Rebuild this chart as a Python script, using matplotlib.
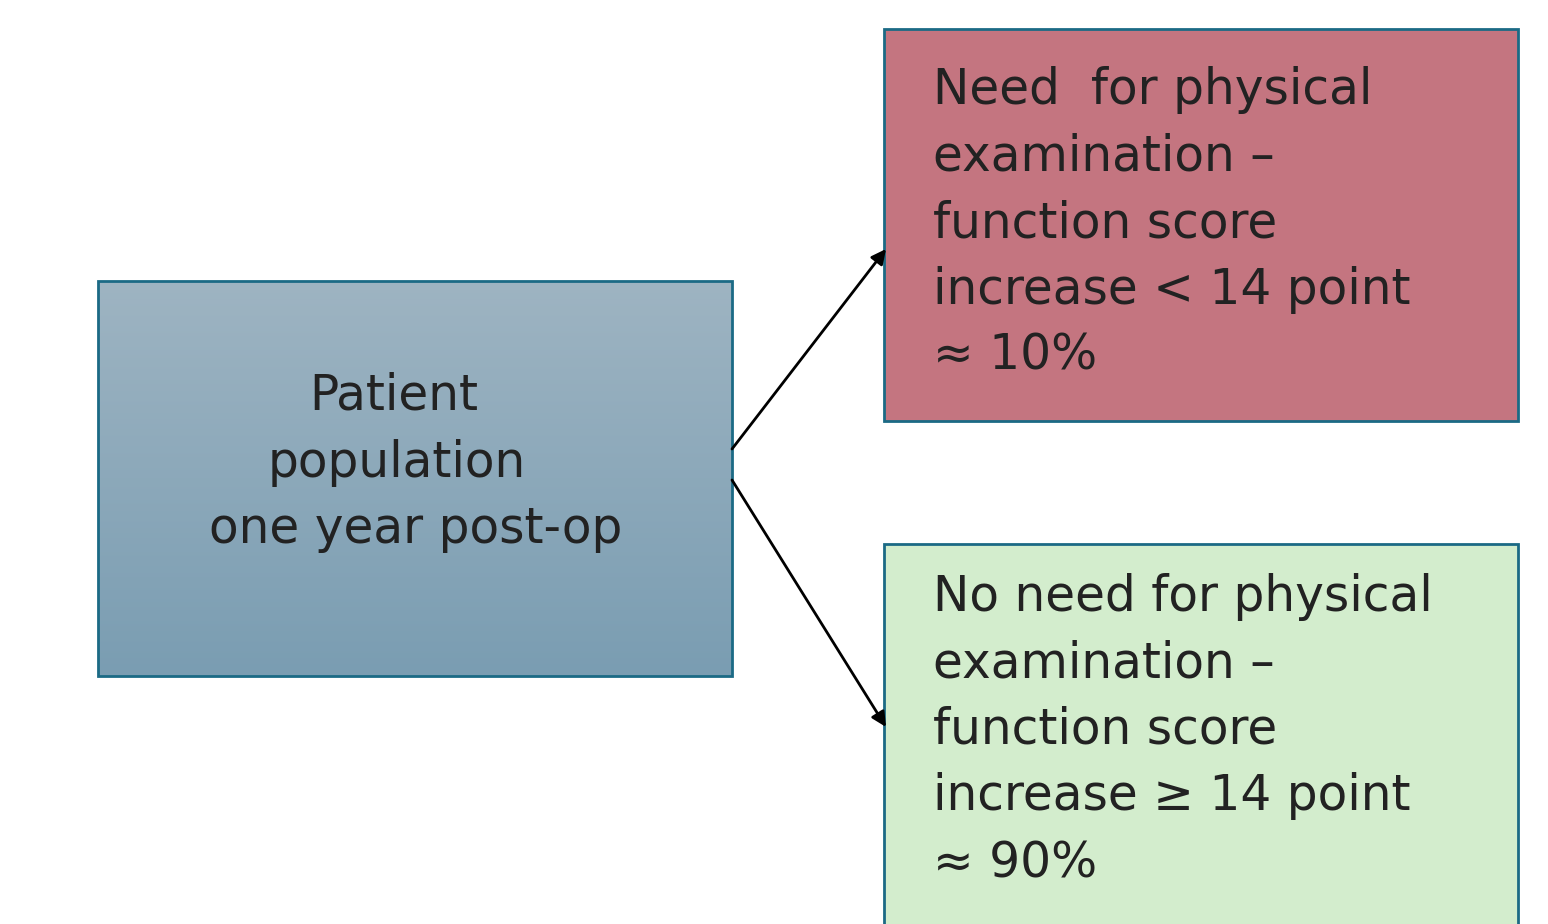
import matplotlib
matplotlib.use('Agg')
import matplotlib.pyplot as plt
import numpy as np
from matplotlib.patches import Rectangle

plt.rcParams['font.family'] = ['DejaVu Sans']

# Box texts, one entry per line
source_lines = ['Patient', 'population', 'one year post-op']
upper_lines = ['Need  for physical', 'examination \u2013', 'function score',
               'increase < 14 point', '\u2248 10%']
lower_lines = ['No need for physical', 'examination \u2013', 'function score',
               'increase \u2265 14 point', '\u2248 90%']

W, H = 1548, 924
fig = plt.figure(figsize=(W / 100, H / 100), dpi=100)
ax = fig.add_axes([0, 0, 1, 1])
ax.set_xlim(0, W)
ax.set_ylim(H, 0)
ax.axis('off')

edge = '#1b6a85'

# Left box with vertical gradient
x0, y0, x1, y1 = 98, 281, 732, 676
top = np.array([0x9e, 0xb4, 0xc2]) / 255
bot = np.array([0x7a, 0x9d, 0xb2]) / 255
t = np.linspace(0, 1, 256)[:, None]
grad = (top * (1 - t) + bot * t)[:, None, :]
ax.imshow(grad, extent=(x0, x1, y1, y0), aspect='auto', zorder=1)
ax.add_patch(Rectangle((x0, y0), x1 - x0, y1 - y0, fill=False,
                       ec=edge, lw=2, zorder=2))

# Right boxes
ax.add_patch(Rectangle((884, 29), 634, 392, fc='#c47580', ec=edge, lw=2, zorder=2))
ax.add_patch(Rectangle((884, 544), 634, 420, fc='#d3edcd', ec=edge, lw=2, zorder=2))
ax.set_xlim(0, W)
ax.set_ylim(H, 0)

fs = 35
txt = '#222222'
src_x = [394, 397, 416]
src_y = [395, 463, 529]
for s, xx, yy in zip(source_lines, src_x, src_y):
    ax.text(xx, yy, s, ha='center', va='center', fontsize=fs, color=txt, zorder=3)

step = 66.5
for i, s in enumerate(upper_lines):
    ax.text(933, 104 + i * step, s, ha='left', va='baseline', fontsize=fs,
            color=txt, zorder=3)
for i, s in enumerate(lower_lines):
    ax.text(933, 611 + i * step, s, ha='left', va='baseline', fontsize=fs,
            color=txt, zorder=3)

# Arrows
arrow = dict(arrowstyle='-|>', color='black', lw=2, mutation_scale=22,
             shrinkA=0, shrinkB=0)
ax.annotate('', xy=(886, 249), xytext=(732, 449), arrowprops=arrow, zorder=4)
ax.annotate('', xy=(886, 727), xytext=(732, 480), arrowprops=arrow, zorder=4)

fig.savefig('out.png', dpi=100)
